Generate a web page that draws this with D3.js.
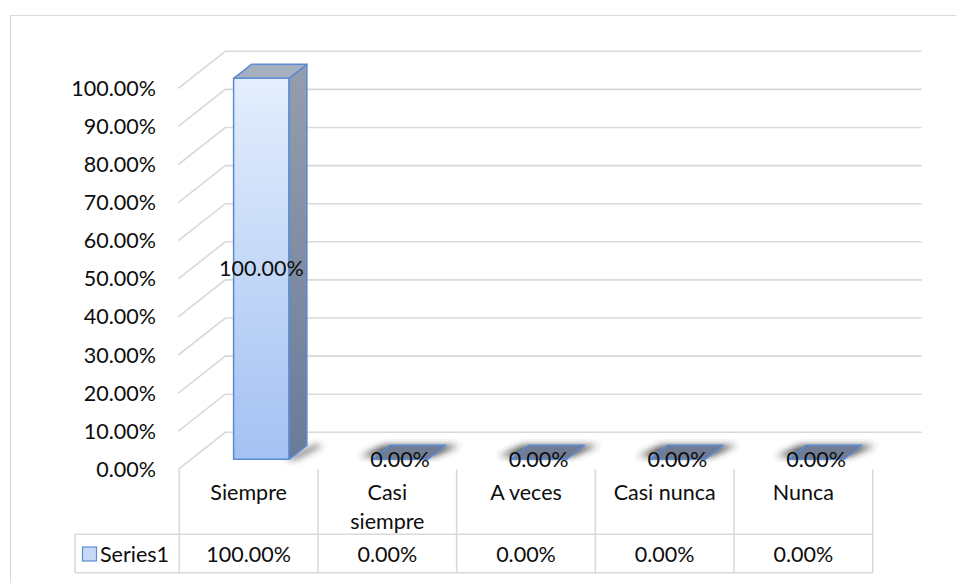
<!DOCTYPE html>
<html>
<head>
<meta charset="utf-8">
<script src="https://cdn.jsdelivr.net/npm/d3@7"></script>
<style>
  body { margin: 0; background: #ffffff; }
  text { font-family: "Lato", "Open Sans", sans-serif; fill: #0d0d0d; }
</style>
</head>
<body>
<script>
// chart data
var CATEGORIES = ["Siempre", "Casi siempre", "A veces", "Casi nunca", "Nunca"];
var SERIES_NAME = "Series1";
var SERIES_VALUES = [1.00, 0.00, 0.00, 0.00, 0.00];
var Y_TICKS = [0, 0.1, 0.2, 0.3, 0.4, 0.5, 0.6, 0.7, 0.8, 0.9, 1.0];

var WIDTH = 956, HEIGHT = 583;
var FONT_SIZE = 21.5;

// front plane of the 3d box
var PLOT_LEFT = 179.3, PLOT_RIGHT = 872.7;
var FLOOR_Y = 469.3, TOP_Y = 88.3;

// how far back the walls go
var DEPTH_DX = 47, DEPTH_DY = -37;
var BAR_FRONT = 0.27, BAR_BACK = 0.65;
var BAR_WIDTH_FRAC = 0.4;

var GRID_COLOR = "#d9d9d9";
var BAR_EDGE = "#5b8bd2";

var TABLE_LEFT = 75;
var HEAD_BOTTOM = 534.3, TABLE_BOTTOM = 572.7;
var WRAP_WIDTH = 112;

var fmt = d3.format(".2%");

var x = d3.scaleBand().domain(CATEGORIES).range([PLOT_LEFT, PLOT_RIGHT]).paddingInner(0).paddingOuter(0);
var y = d3.scaleLinear().domain([0, 1]).range([FLOOR_Y, TOP_Y]);

// project a point given x on the front plane, a value and a depth fraction
function proj(px, v, d)
{
  return [px + d * DEPTH_DX, y(v) + d * DEPTH_DY];
}

function pts(list)
{
  return list.map(function(p) { return p[0].toFixed(1) + "," + p[1].toFixed(1); }).join(" ");
}

var svg = d3.select("body").append("svg").attr("width", WIDTH).attr("height", HEIGHT);

var defs = svg.append("defs");

var frontGrad = defs.append("linearGradient").attr("id", "frontGrad")
      .attr("x1", 0).attr("y1", 0).attr("x2", 0).attr("y2", 1);
frontGrad.append("stop").attr("offset", "0%").attr("stop-color", "#e4eefd");
frontGrad.append("stop").attr("offset", "100%").attr("stop-color", "#a3c1f2");

var sideGrad = defs.append("linearGradient").attr("id", "sideGrad")
      .attr("x1", 0).attr("y1", 0).attr("x2", 0).attr("y2", 1);
sideGrad.append("stop").attr("offset", "0%").attr("stop-color", "#959eae");
sideGrad.append("stop").attr("offset", "100%").attr("stop-color", "#6a7b99");

defs.append("filter").attr("id", "blur")
      .attr("x", "-50%").attr("y", "-50%").attr("width", "200%").attr("height", "200%")
      .append("feGaussianBlur").attr("stdDeviation", 3.5);

// chart frame
svg.append("rect")
      .attr("x", 10.5).attr("y", 15.5)
      .attr("width", 960).attr("height", 600)
      .attr("fill", "none")
      .attr("stroke", GRID_COLOR)
      .attr("stroke-width", 1);

// gridlines: side wall diagonal + back wall horizontal
svg.append("g").selectAll("polyline")
      .data(Y_TICKS)
      .enter().append("polyline")
      .attr("points", function(v)
      {
        return pts([[PLOT_LEFT - 1, y(v)], proj(PLOT_LEFT - 1, v, 1), proj(PLOT_RIGHT + 2, v, 1)]);
      })
      .attr("fill", "none")
      .attr("stroke", GRID_COLOR)
      .attr("stroke-width", 1.6);

// y axis labels
svg.append("g").selectAll("text")
      .data(Y_TICKS)
      .enter().append("text")
      .attr("x", 156)
      .attr("y", function(v) { return y(v); })
      .attr("dy", "0.35em")
      .attr("text-anchor", "end")
      .style("font-size", FONT_SIZE + "px")
      .text(function(v) { return fmt(v); });

// bars
var bars = svg.append("g").selectAll("g")
      .data(SERIES_VALUES)
      .enter().append("g");

function barX0(d, i) { return x(CATEGORIES[i]) + x.bandwidth() * (1 - BAR_WIDTH_FRAC) / 2; }
function barX1(d, i) { return barX0(d, i) + x.bandwidth() * BAR_WIDTH_FRAC; }

// soft floor shadow
bars.append("polygon")
      .attr("points", function(d, i)
      {
        var x0 = barX0(d, i), x1 = barX1(d, i);
        if (d > 0)
          return pts([proj(x1 - 4, 0, BAR_FRONT), proj(x1 + 8, 0, BAR_BACK), proj(x1 + 16, 0, BAR_BACK), proj(x1 + 6, 0, BAR_FRONT)]);
        return pts([proj(x0 - 16, 0, BAR_FRONT + 0.08), proj(x0 - 6, 0, BAR_BACK), proj(x1 + 14, 0, BAR_BACK), proj(x1 + 2, 0, BAR_FRONT + 0.08)]);
      })
      .attr("fill", "#333333")
      .attr("opacity", 0.85)
      .attr("filter", "url(#blur)");

// front face
bars.filter(function(d) { return d > 0; })
      .append("polygon")
      .attr("points", function(d, i)
      {
        var x0 = barX0(d, i), x1 = barX1(d, i);
        return pts([proj(x0, d, BAR_FRONT), proj(x1, d, BAR_FRONT), proj(x1, 0, BAR_FRONT), proj(x0, 0, BAR_FRONT)]);
      })
      .attr("fill", "url(#frontGrad)")
      .attr("stroke", BAR_EDGE)
      .attr("stroke-width", 1.5)
      .attr("stroke-linejoin", "round");

// side face
bars.filter(function(d) { return d > 0; })
      .append("polygon")
      .attr("points", function(d, i)
      {
        var x1 = barX1(d, i);
        return pts([proj(x1, d, BAR_FRONT), proj(x1, d, BAR_BACK), proj(x1, 0, BAR_BACK), proj(x1, 0, BAR_FRONT)]);
      })
      .attr("fill", "url(#sideGrad)")
      .attr("stroke", BAR_EDGE)
      .attr("stroke-width", 1.5)
      .attr("stroke-linejoin", "round");

// top face
bars.append("polygon")
      .attr("points", function(d, i)
      {
        var x0 = barX0(d, i), x1 = barX1(d, i);
        return pts([proj(x0, d, BAR_FRONT), proj(x1, d, BAR_FRONT), proj(x1, d, BAR_BACK), proj(x0, d, BAR_BACK)]);
      })
      .attr("fill", function(d) { return d > 0 ? "#a6afbf" : "#6f7c94"; })
      .attr("stroke", BAR_EDGE)
      .attr("stroke-width", 1.5)
      .attr("stroke-linejoin", "round");

// data labels
bars.append("text")
      .attr("x", function(d, i) { return (barX0(d, i) + barX1(d, i)) / 2 + BAR_FRONT * DEPTH_DX; })
      .attr("y", function(d) { return (y(d) + y(0)) / 2 + BAR_FRONT * DEPTH_DY; })
      .attr("dy", "0.35em")
      .attr("text-anchor", "middle")
      .style("font-size", FONT_SIZE + "px")
      .text(function(d) { return fmt(d); });

// data table
var table = svg.append("g")
      .attr("stroke", GRID_COLOR)
      .attr("stroke-width", 1.6);

var colEdges = [PLOT_LEFT].concat(CATEGORIES.map(function(c) { return x(c) + x.bandwidth(); }));

table.selectAll("line.col")
      .data(colEdges)
      .enter().append("line")
      .attr("x1", function(d) { return d; })
      .attr("x2", function(d) { return d; })
      .attr("y1", FLOOR_Y)
      .attr("y2", TABLE_BOTTOM);

table.append("line")
      .attr("x1", TABLE_LEFT).attr("x2", TABLE_LEFT)
      .attr("y1", HEAD_BOTTOM).attr("y2", TABLE_BOTTOM);

table.selectAll("line.row")
      .data([HEAD_BOTTOM, TABLE_BOTTOM])
      .enter().append("line")
      .attr("x1", TABLE_LEFT).attr("x2", PLOT_RIGHT)
      .attr("y1", function(d) { return d; })
      .attr("y2", function(d) { return d; });

// category headers, wrapped to the column
var heads = svg.append("g").selectAll("text")
      .data(CATEGORIES)
      .enter().append("text")
      .attr("x", function(c) { return x(c) + x.bandwidth() / 2; })
      .attr("y", 492.7)
      .attr("dy", "0.35em")
      .attr("text-anchor", "middle")
      .style("font-size", FONT_SIZE + "px");

heads.each(function(c)
{
  var t = d3.select(this);
  var words = c.split(" ");
  var line = [];
  var span = t.append("tspan").attr("x", t.attr("x"));
  words.forEach(function(w)
  {
    line.push(w);
    span.text(line.join(" "));
    if (span.node().getComputedTextLength() > WRAP_WIDTH && line.length > 1)
    {
      line.pop();
      span.text(line.join(" "));
      line = [w];
      span = t.append("tspan").attr("x", t.attr("x")).attr("dy", "29px").text(w);
    }
  });
});

// series row
svg.append("g").selectAll("text")
      .data(SERIES_VALUES)
      .enter().append("text")
      .attr("x", function(d, i) { return x(CATEGORIES[i]) + x.bandwidth() / 2; })
      .attr("y", 554)
      .attr("dy", "0.35em")
      .attr("text-anchor", "middle")
      .style("font-size", FONT_SIZE + "px")
      .text(function(d) { return fmt(d); });

// legend key
svg.append("rect")
      .attr("x", 82.5).attr("y", 547)
      .attr("width", 14).attr("height", 14)
      .attr("fill", "#c6d9f6")
      .attr("stroke", BAR_EDGE)
      .attr("stroke-width", 1.2);

svg.append("text")
      .attr("x", 100)
      .attr("y", 554)
      .attr("dy", "0.35em")
      .style("font-size", FONT_SIZE + "px")
      .text(SERIES_NAME);
</script>
</body>
</html>
